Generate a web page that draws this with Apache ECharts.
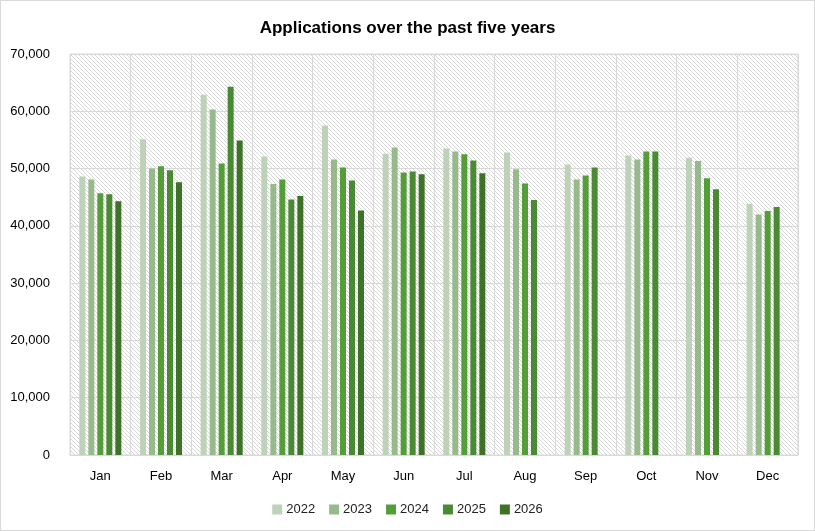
<!DOCTYPE html>
<html>
<head>
<meta charset="utf-8">
<title>Applications over the past five years</title>
<script src="https://cdn.jsdelivr.net/npm/echarts@6/dist/echarts.min.js"></script>
<style>
  html, body { margin: 0; padding: 0; background: #fff; }
  #chart { width: 815px; height: 531px; box-sizing: border-box; border: 1px solid #d9d9d9; }
</style>
</head>
<body>
<div id="chart"></div>
<script>
var months = ['Jan', 'Feb', 'Mar', 'Apr', 'May', 'Jun', 'Jul', 'Aug', 'Sep', 'Oct', 'Nov', 'Dec'];
var years = ['2022', '2023', '2024', '2025', '2026'];
var yearColors = ['#bed1b9', '#97ba8c', '#549e3a', '#4a8a34', '#3e7229'];

// values, null where no bar
var apps2022 = [48600, 55100, 62900, 52100, 57500, 52600, 53500, 52800, 50700, 52300, 51900, 43800];
var apps2023 = [48100, 50000, 60300, 47300, 51600, 53700, 53000, 49900, 48100, 51600, 51300, 42000];
var apps2024 = [45700, 50400, 50900, 48100, 50200, 49300, 52500, 47400, 48800, 53000, 48300, 42600];
var apps2025 = [45500, 49700, 64300, 44600, 47900, 49500, 51400, 44500, 50200, 53000, 46400, 43300];
var apps2026 = [44300, 47600, 54900, 45200, 42700, 49000, 49200, null, null, null, null, null];

var yTicks = [0, 10000, 20000, 30000, 40000, 50000, 60000, 70000];

// diagonal hatch for the plot area
function hatchPattern() {
    var c = document.createElement('canvas');
    c.width = 4;
    c.height = 4;
    var ctx = c.getContext('2d');
    ctx.fillStyle = '#ffffff';
    ctx.fillRect(0, 0, 4, 4);
    ctx.fillStyle = '#d8d8d8';
    for (var i = 0; i < 4; i++) {
        ctx.fillRect(i, i, 1, 1);
    }
    return { image: c, repeat: 'repeat' };
}

var allValues = [apps2022, apps2023, apps2024, apps2025, apps2026];
var series = [];
for (var k = 0; k < years.length; k++) {
    series.push({
        name: years[k],
        type: 'bar',
        data: allValues[k],
        barWidth: 6,
        barGap: '50%',
        itemStyle: { color: yearColors[k] }
    });
}

var myChart = echarts.init(document.getElementById('chart'));
var option = {
    animation: false,
    textStyle: { fontFamily: 'Liberation Sans, Arial, sans-serif' },
    title: {
        text: 'Applications over the past five years',
        left: 'center',
        top: 14,
        textStyle: { fontSize: 17, fontWeight: 'bold', color: '#000', fontFamily: 'Liberation Sans, Arial, sans-serif' }
    },
    legend: {
        data: years,
        bottom: 9,
        left: 'center',
        itemWidth: 10,
        itemHeight: 10,
        itemGap: 14,
        icon: 'rect',
        textStyle: { fontSize: 13, color: '#222', padding: [0, 0, 0, -1] }
    },
    grid: {
        left: 69,
        right: 16,
        top: 53,
        bottom: 75,
        show: true,
        borderColor: '#d9d9d9',
        borderWidth: 1,
        backgroundColor: hatchPattern()
    },
    xAxis: {
        type: 'category',
        data: months,
        axisLine: { lineStyle: { color: '#d9d9d9' } },
        axisTick: { show: false },
        splitLine: { show: true, lineStyle: { color: '#d9d9d9', width: 1 } },
        axisLabel: { fontSize: 13, color: '#000', margin: 15 }
    },
    yAxis: {
        type: 'value',
        min: yTicks[0],
        max: yTicks[yTicks.length - 1],
        interval: 10000,
        axisLine: { show: false },
        axisTick: { show: false },
        splitLine: { lineStyle: { color: '#d9d9d9', width: 1 } },
        axisLabel: {
            fontSize: 13,
            color: '#000',
            margin: 20,
            formatter: function (v) { return v.toLocaleString('en-US'); }
        }
    },
    series: series
};
myChart.setOption(option);
</script>
</body>
</html>
